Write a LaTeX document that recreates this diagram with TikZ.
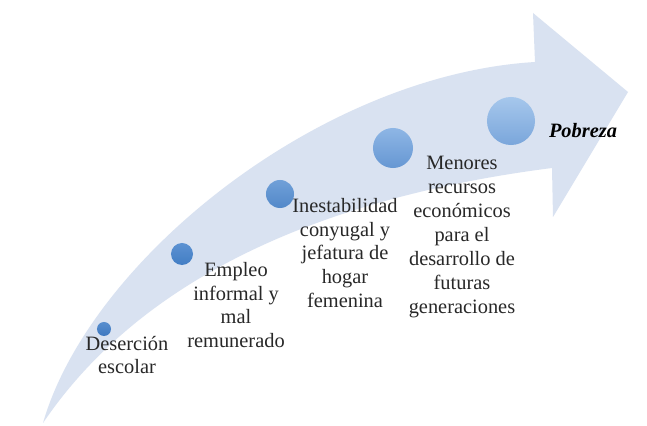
\documentclass[tikz,border=0pt]{standalone}
\usepackage{fontspec}
\setmainfont{Liberation Serif}
\usepackage{tikz}
\definecolor{bnd}{RGB}{217,226,241}
\definecolor{txt}{RGB}{40,40,40}

\begin{document}
\begin{tikzpicture}[x=0.025cm, y=-0.025cm,
	dot/.style={circle, inner sep=0pt},
	lbl/.style={align=center, inner sep=0pt, text=txt, font=\fontsize{14.5}{17}\selectfont}]
	\useasboundingbox[fill=white] (0,0) rectangle (647,426);
	% curved arrow
	\fill (43,423) .. controls (90,260) and (320,75) .. (535,62)--(533,13)--(628,92)--(553,217)--(552,168) .. controls (380,190) and (160,250) .. (43,423) [bnd];
	% steps
	\node[dot, minimum size=0.35cm, top color={rgb,255:red,88;green,142;blue,206}, bottom color={rgb,255:red,62;green,120;blue,192}] (d1) at (104,329) {};
	\node[dot, minimum size=0.55cm, top color={rgb,255:red,92;green,146;blue,210}, bottom color={rgb,255:red,66;green,125;blue,196}] (d2) at (182,254) {};
	\node[dot, minimum size=0.7cm, top color={rgb,255:red,112;green,160;blue,216}, bottom color={rgb,255:red,82;green,136;blue,201}] (d3) at (280,194) {};
	\node[dot, minimum size=1.0cm, top color={rgb,255:red,142;green,182;blue,229}, bottom color={rgb,255:red,102;green,151;blue,211}] (d4) at (393,148) {};
	\node[dot, minimum size=1.2cm, top color={rgb,255:red,166;green,199;blue,236}, bottom color={rgb,255:red,122;green,166;blue,219}] (d5) at (511,121) {};
	\node[lbl] (t1) at (127,355) {Deserción\\escolar};
	\node[lbl] (t2) at (236,305) {Empleo\\informal y\\mal\\remunerado};
	\node[lbl] (t3) at (345,253) {Inestabilidad\\conyugal y\\jefatura de\\hogar\\femenina};
	\node[lbl] (t4) at (462,237) {Menores\\recursos\\económicos\\para el\\desarrollo de\\futuras\\generaciones};
	\node[lbl, font=\fontsize{14.5}{17}\selectfont\bfseries\itshape, text=black] (t5) at (583,131) {Pobreza};
\end{tikzpicture}
\end{document}
